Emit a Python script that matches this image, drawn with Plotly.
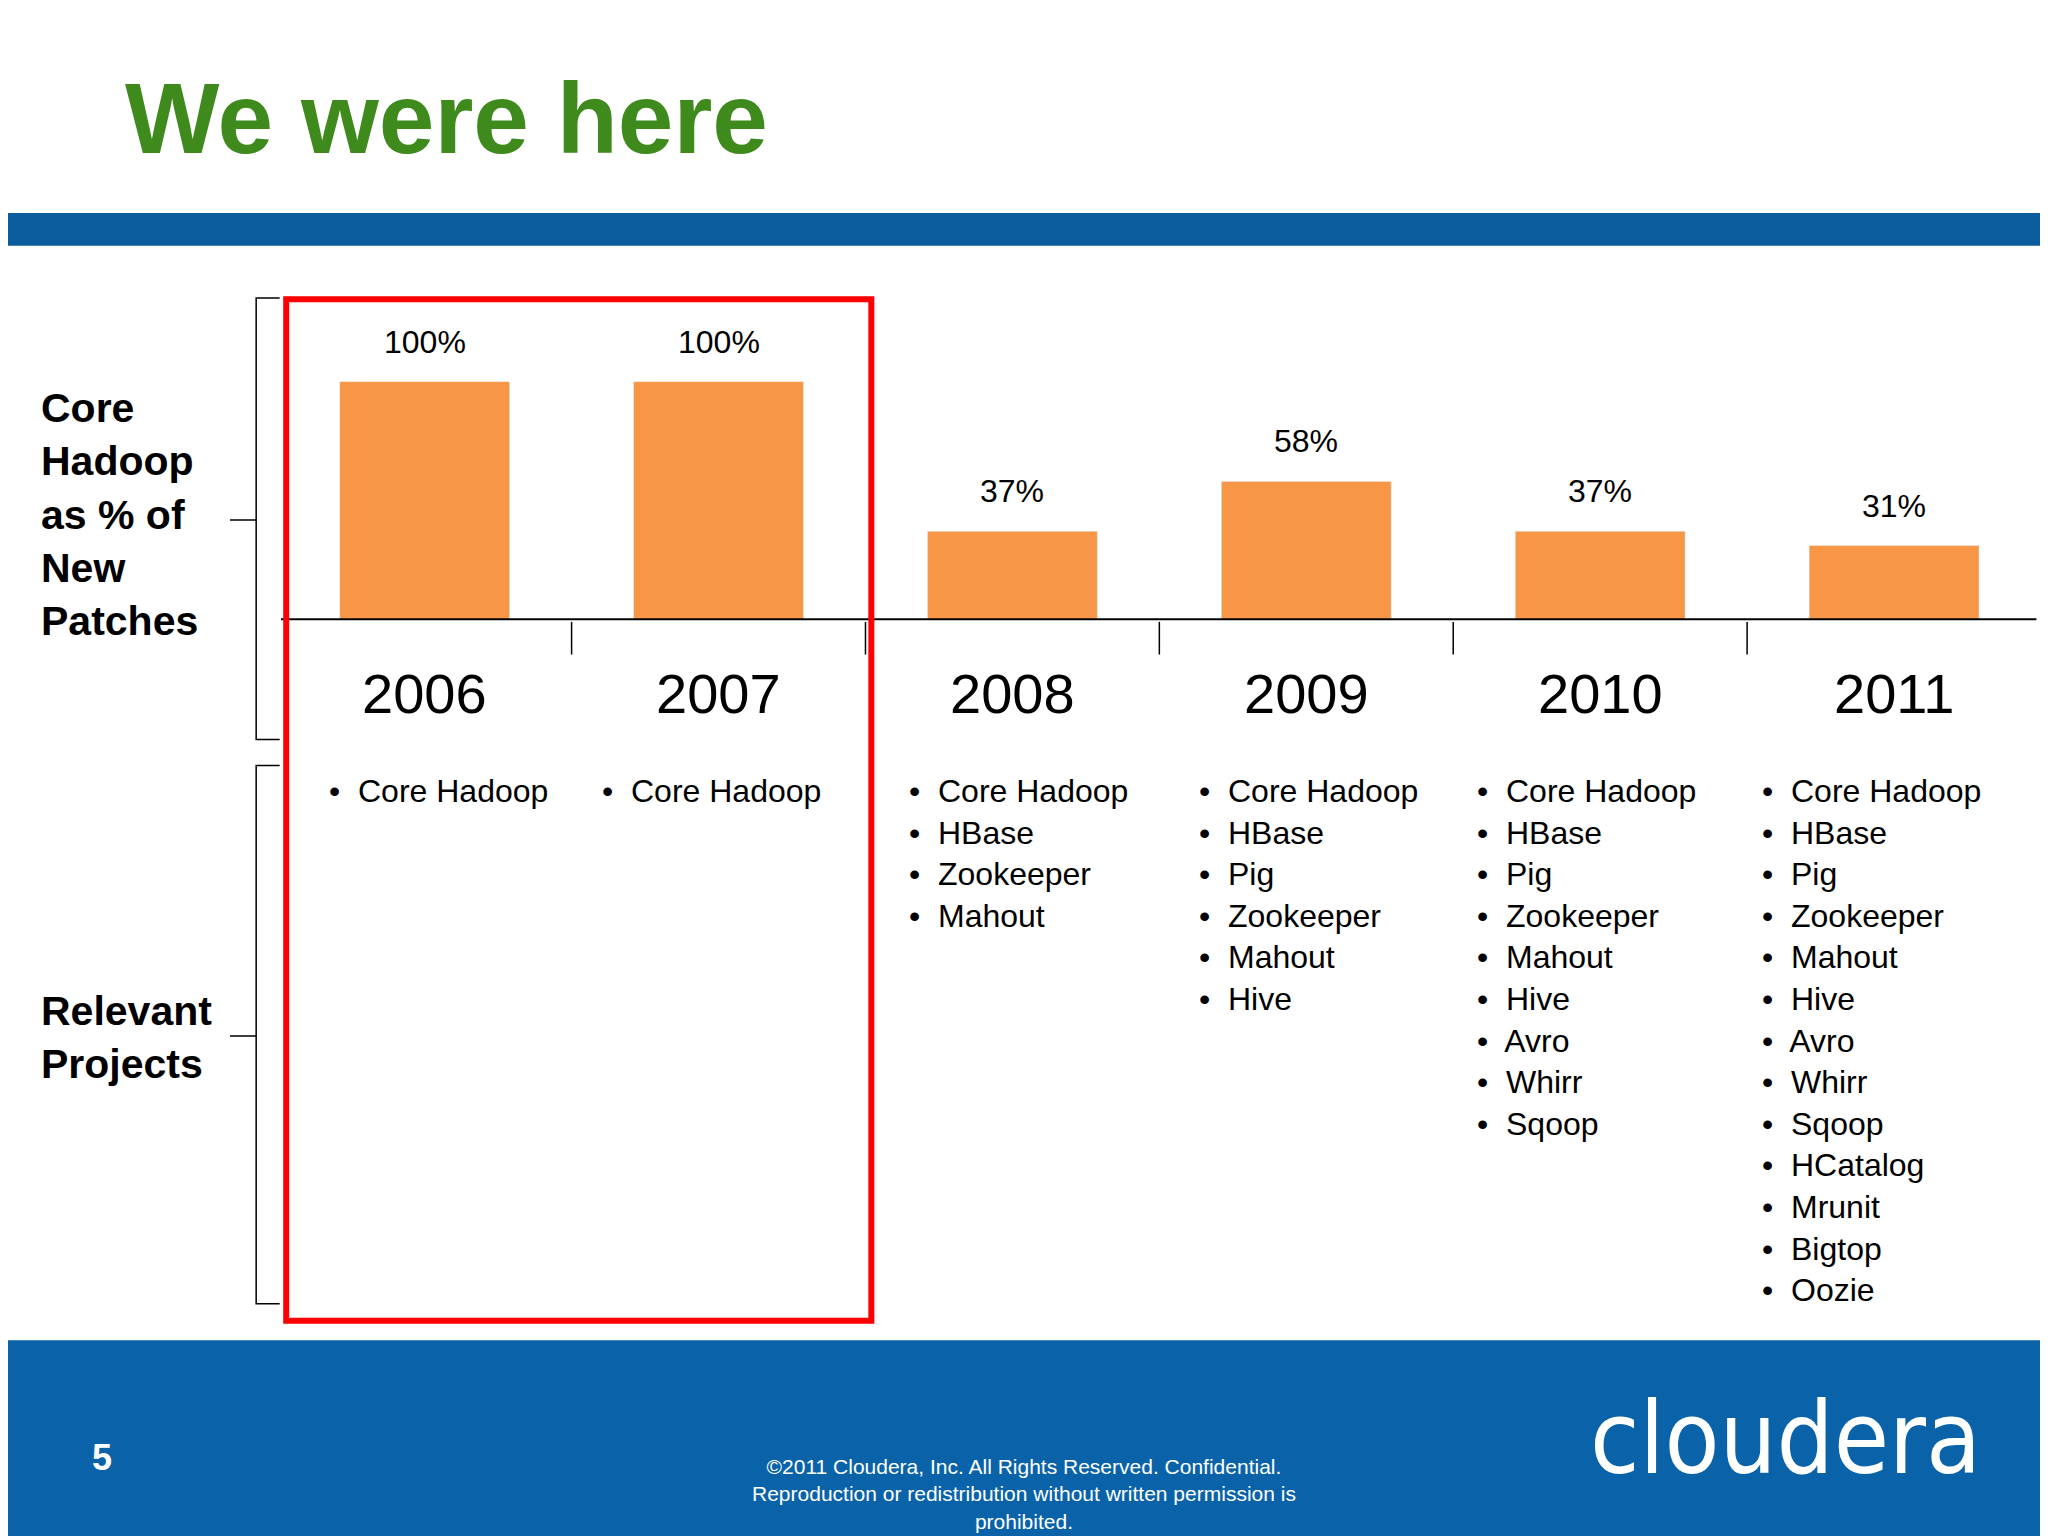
import plotly.graph_objects as go

years = ["2006", "2007", "2008", "2009", "2010", "2011"]
core_share = [100, 100, 37, 58, 37, 31]
share_labels = ["100%", "100%", "37%", "58%", "37%", "31%"]
projects = [
    ["Core Hadoop"],
    ["Core Hadoop"],
    ["Core Hadoop", "HBase", "Zookeeper", "Mahout"],
    ["Core Hadoop", "HBase", "Pig", "Zookeeper", "Mahout", "Hive"],
    ["Core Hadoop", "HBase", "Pig", "Zookeeper", "Mahout", "Hive", "Avro", "Whirr", "Sqoop"],
    ["Core Hadoop", "HBase", "Pig", "Zookeeper", "Mahout", "Hive", "Avro", "Whirr", "Sqoop",
     "HCatalog", "Mrunit", "Bigtop", "Oozie"],
]
list_x = [244, 453, 688, 910, 1123, 1341]  # left edge of each list, in 1568-wide units

W, H = 1568.0, 1176.0
px = lambda x: x / W
py = lambda y: 1 - y / H
FONT = "Liberation Sans, Arial"
idx = list(range(len(years)))

fig = go.Figure(go.Bar(
    x=idx, y=core_share, marker_color="#f79646", width=0.578,
))

shapes = [
    # blue band under title
    dict(type="rect", xref="paper", yref="paper", x0=0, x1=1, y0=py(182), y1=py(157),
         fillcolor="#0b5c9c", line_width=0, layer="below"),
    # footer
    dict(type="rect", xref="paper", yref="paper", x0=0, x1=1, y0=0, y1=py(1020),
         fillcolor="#0a63a8", line_width=0, layer="below"),
    # baseline
    dict(type="line", xref="paper", yref="paper", x0=px(209), x1=px(1553), y0=py(468), y1=py(468),
         line=dict(color="black", width=2)),
    # red highlight box
    dict(type="rect", xref="paper", yref="paper", x0=px(213), x1=px(661), y0=py(1005), y1=py(223),
         line=dict(color="#ff0000", width=6)),
    # brackets
    dict(type="path", xref="paper", yref="paper",
         path=f"M {px(208)} {py(222)} L {px(190)} {py(222)} L {px(190)} {py(560)} L {px(208)} {py(560)} "
              f"M {px(190)} {py(392)} L {px(170)} {py(392)}",
         line=dict(color="black", width=1.5)),
    dict(type="path", xref="paper", yref="paper",
         path=f"M {px(208)} {py(580)} L {px(190)} {py(580)} L {px(190)} {py(992)} L {px(208)} {py(992)} "
              f"M {px(190)} {py(787)} L {px(170)} {py(787)}",
         line=dict(color="black", width=1.5)),
]
for i in idx[1:]:
    shapes.append(dict(type="line", xref="x", yref="paper", x0=i - 0.5, x1=i - 0.5,
                       y0=py(495), y1=py(470), line=dict(color="black", width=1.5)))

ann = [
    dict(x=px(88), y=py(84), text="<b>We were here</b>", xanchor="left", yanchor="middle",
         font=dict(size=100, color="#3f8a1c", family=FONT)),
    dict(x=px(24), y=py(388), text="<b>Core<br>Hadoop<br>as % of<br>New<br>Patches</b>",
         xanchor="left", yanchor="middle", align="left",
         font=dict(size=41, color="black", family=FONT)),
    dict(x=px(24), y=py(788), text="<b>Relevant<br>Projects</b>",
         xanchor="left", yanchor="middle", align="left",
         font=dict(size=41, color="black", family=FONT)),
    dict(x=px(72), y=py(1110), text="<b>5</b>", xanchor="center", yanchor="middle",
         font=dict(size=36, color="white", family=FONT)),
    dict(x=px(778), y=py(1138), text="©2011 Cloudera, Inc. All Rights Reserved. Confidential.<br>"
         "Reproduction or redistribution without written permission is<br>prohibited.",
         xanchor="center", yanchor="middle", align="center",
         font=dict(size=21, color="white", family=FONT)),
    dict(x=px(1512), y=py(1095), text="cloudera", xanchor="right", yanchor="middle",
         font=dict(size=100, color="white", family="DejaVu Sans Condensed, Liberation Sans")),
]
for i, y in enumerate(years):
    ann.append(dict(x=i, xref="x", y=core_share[i], yref="y", text=share_labels[i],
                    yanchor="middle", yshift=40,
                    font=dict(size=32, color="black", family=FONT)))
    ann.append(dict(x=i, xref="x", y=py(525), yref="paper", text=y,
                    yanchor="middle", font=dict(size=56, color="black", family=FONT)))
    ann.append(dict(x=px(list_x[i]), y=py(584), text="<br>".join("•  " + p for p in projects[i]),
                    xanchor="left", yanchor="top", align="left",
                    font=dict(size=32, color="black", family=FONT)))
for a in ann:
    a.setdefault("xref", "paper")
    a.setdefault("yref", "paper")
    a.setdefault("showarrow", False)

fig.update_layout(
    width=2048, height=1536, margin=dict(l=0, r=0, t=0, b=0),
    paper_bgcolor="white", plot_bgcolor="rgba(0,0,0,0)", showlegend=False,
    xaxis=dict(domain=[px(206.5), px(1556.5)], range=[-0.5, 5.5], showticklabels=False,
               showgrid=False, zeroline=False, showline=False, ticks=""),
    yaxis=dict(domain=[py(468), py(286)], range=[0, 100], visible=False),
    shapes=shapes, annotations=ann,
)
fig.write_html("out.html")
